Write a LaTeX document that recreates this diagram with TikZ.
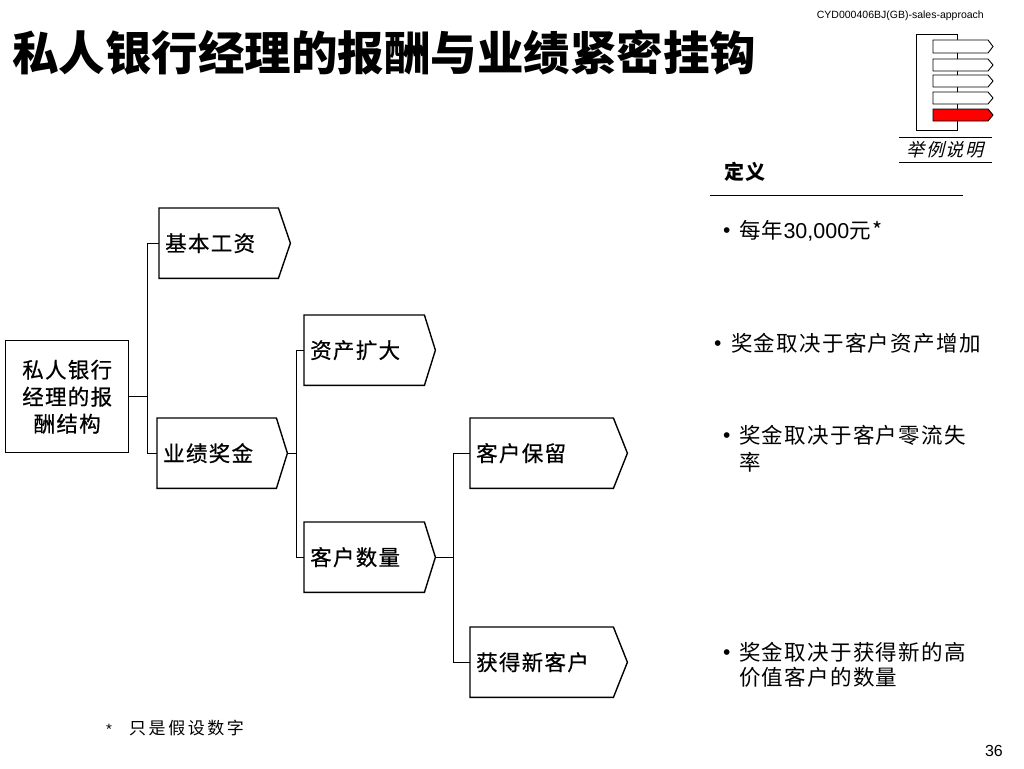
\documentclass[tikz,border=0pt]{standalone}
\usepackage{fontspec}
\usetikzlibrary{calc}
\newfontfamily\cjk{Noto Sans CJK SC}
\newfontfamily\cjksp[LetterSpace=6]{Noto Sans CJK SC}
\newfontfamily\cjkbox[LetterSpace=6,FakeBold=0.6]{Noto Sans CJK SC}
\newfontfamily\cjkfoot[LetterSpace=15]{Noto Sans CJK SC}
\newfontfamily\cjkit[FakeSlant=0.25,LetterSpace=10]{Noto Sans CJK SC}
\newfontfamily\arial{Liberation Sans}
\begin{document}
\begin{tikzpicture}[x=1pt,y=-1pt,
  conn/.style={line width=1.4pt, black},
  boxline/.style={line width=1.4pt, black},
  boxtxt/.style={draw=none, inner xsep=6pt, inner ysep=0pt, minimum height=70pt, align=left, anchor=north west, font=\fontsize{21.5}{27}\cjkbox},
  rtxt/.style={anchor=base west, inner sep=0pt, font=\fontsize{21.5}{26}\cjksp},
  bul/.style={anchor=base west, inner sep=0pt, font=\fontsize{21}{24}\arial},
  icon/.style={line width=0.9pt, black}]
\useasboundingbox (0,0) rectangle (1024,768);

% header
\node[anchor=east, inner sep=0pt, font=\fontsize{10.5}{12}\arial] (code) at (984,16) {CYD000406BJ(GB)-sales-approach};
\node[anchor=west, inner sep=0pt, font=\fontsize{46.5}{50}\cjk\bfseries] (title) at (12,53) {私人银行经理的报酬与业绩紧密挂钩};

% icon
\draw[icon, fill=white] (916,34) rectangle (957,130);
\foreach \yt/\yb/\c [count=\i] in {40/53/white, 59/71/white, 75/87/white, 92/104/white, 109/121/red}{
  \draw[icon, fill=\c] (933,\yt) -- (988,\yt) -- (993,{(\yt+\yb)/2}) -- (988,\yb) -- (933,\yb) -- cycle;
}
\draw[line width=1pt] (899,137) -- (992,137);
\draw[line width=1pt] (899,162) -- (992,162);
\node[inner sep=0pt, font=\fontsize{18}{20}\cjkit] (legend) at (945,150) {举例说明};

% tree
\node[draw, line width=1.4pt, minimum width=123pt, minimum height=112pt, anchor=north west, align=center, font=\fontsize{21.5}{27}\cjkbox] (root) at (5,340) {私人银行\\经理的报\\酬结构};

\node[boxtxt, text width=119pt] (jiben) at (159,208) {基本工资};
\node[boxtxt, text width=118pt] (yeji) at (157,418) {业绩奖金};
\node[boxtxt, text width=119pt] (zichan) at (304,315) {资产扩大};
\node[boxtxt, text width=119pt] (shuliang) at (304,522) {客户数量};
\node[boxtxt, text width=145pt] (baoliu) at (470,418) {客户保留};
\node[boxtxt, text width=145pt] (huode) at (470,627) {获得新客户};

\foreach \n/\d in {jiben/12, yeji/11, zichan/11, shuliang/11, baoliu/14, huode/14}{
  \draw[boxline] (\n.north west) -- ([xshift=-\d pt]\n.north east) -- (\n.east) -- ([xshift=-\d pt]\n.south east) -- (\n.south west) -- cycle;
}

\draw[conn] (root.east) -- ++(18,0) |- (jiben.west);
\draw[conn] (root.east) -- ++(18,0) |- (yeji.west);
\draw[conn] (yeji.east) -- ++(9,0) |- (zichan.west);
\draw[conn] (yeji.east) -- ++(9,0) |- (shuliang.west);
\draw[conn] (shuliang.east) -- ++(18,0) |- (baoliu.west);
\draw[conn] (shuliang.east) -- ++(18,0) |- (huode.west);

% definitions
\node[anchor=west, inner sep=0pt, font=\fontsize{20}{22}\cjksp\bfseries] (dingyi) at (724,172) {定义};
\draw[line width=1pt] (710,195) -- (963,195);

\node[bul] (b1) at (723,237) {•};
\node[rtxt] (t1) at (739,238) {每年{\arial 30,000}元*};

\node[bul] (b2) at (714,350) {•};
\node[rtxt] (t2) at (731,351) {奖金取决于客户资产增加};

\node[bul] (b3) at (723,442) {•};
\node[rtxt] (t3a) at (739,443) {奖金取决于客户零流失};
\node[rtxt] (t3b) at (739,470) {率};

\node[bul] (b4) at (723,659) {•};
\node[rtxt] (t4a) at (739,660) {奖金取决于获得新的高};
\node[rtxt] (t4b) at (739,685) {价值客户的数量};

% footer
\node[anchor=base west, inner sep=0pt, font=\fontsize{15}{18}\arial] (star) at (106,734) {*};
\node[anchor=base west, inner sep=0pt, font=\fontsize{17}{18}\cjkfoot] (foot) at (129,734) {只是假设数字};
\node[anchor=base east, inner sep=0pt, font=\fontsize{16}{18}\arial] (page) at (1003,756) {36};
\end{tikzpicture}
\end{document}
